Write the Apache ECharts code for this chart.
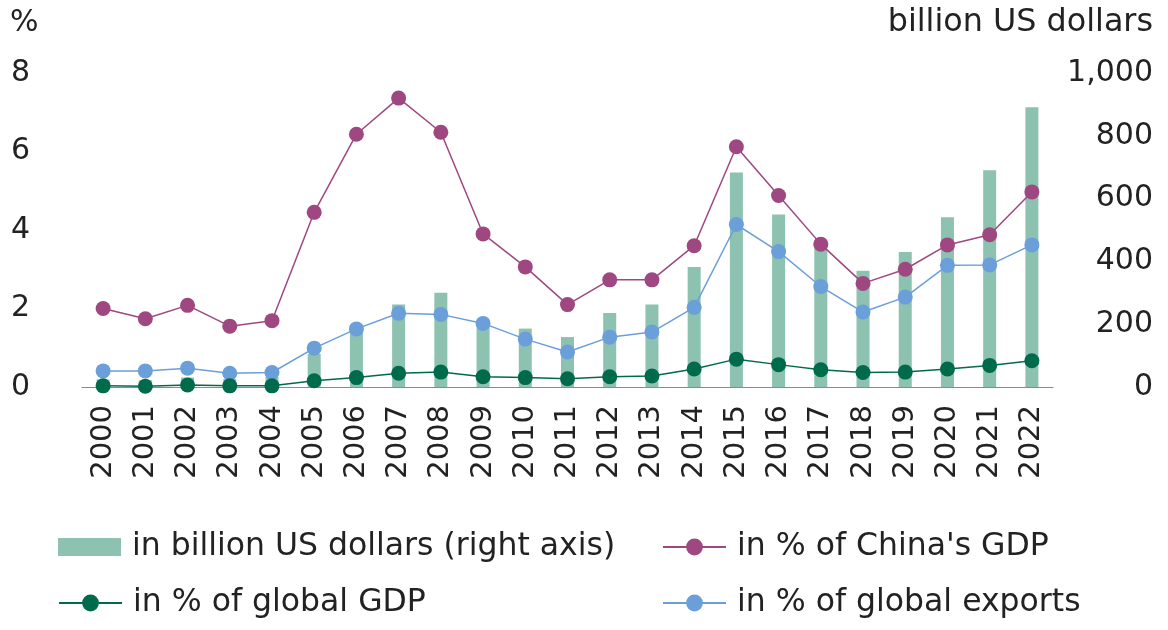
<!DOCTYPE html>
<html>
<head>
<meta charset="utf-8">
<script src="https://cdn.jsdelivr.net/npm/echarts@6/dist/echarts.min.js"></script>
<style>
html,body{margin:0;padding:0;background:#fff;}
#c{width:1168px;height:630px;}
</style>
</head>
<body>
<div id="c"></div>
<script>
const years = ['2000','2001','2002','2003','2004','2005','2006','2007','2008','2009','2010','2011','2012','2013','2014','2015','2016','2017','2018','2019','2020','2021','2022'];
const billionUSD = [24, 22, 30, 25, 32, 105, 180, 263, 300, 205, 186, 159, 236, 263, 382, 683, 549, 462, 370, 430, 541, 690, 891];
const pctChinaGDP = [2.0, 1.74, 2.08, 1.55, 1.69, 4.45, 6.44, 7.36, 6.49, 3.90, 3.06, 2.10, 2.73, 2.73, 3.60, 6.12, 4.88, 3.64, 2.64, 3.00, 3.62, 3.88, 4.97];
const pctGlobalExports = [0.41, 0.41, 0.48, 0.35, 0.37, 0.99, 1.48, 1.88, 1.85, 1.62, 1.22, 0.89, 1.27, 1.40, 2.03, 4.14, 3.45, 2.56, 1.91, 2.29, 3.10, 3.11, 3.62];
const pctGlobalGDP = [0.03, 0.02, 0.05, 0.03, 0.03, 0.16, 0.24, 0.35, 0.38, 0.26, 0.24, 0.21, 0.26, 0.28, 0.46, 0.71, 0.57, 0.44, 0.37, 0.38, 0.46, 0.55, 0.67];
const leftTicks = {min: 0, max: 8, interval: 2};
const rightTicks = {min: 0, max: 1000, interval: 200};

const FONT = 'DejaVu Sans';
const TXT = '#222222';
const C_BAR = '#8CC2AF';
const C_PURPLE = '#9E4780';
const C_BLUE = '#6A9FDA';
const C_GREEN = '#006B4B';

const chart = echarts.init(document.getElementById('c'), null, {renderer: 'canvas'});
const lineSeries = (name, data, color) => ({
  name, type: 'line', data, yAxisIndex: 0,
  symbol: 'circle', symbolSize: 15,
  lineStyle: {color, width: 1.5},
  itemStyle: {color},
  emphasis: {disabled: true},
  animation: false
});
const legendText = {fontSize: 31.5, color: TXT, fontFamily: FONT, lineHeight: 34, padding: [0, 0, 0, 6]};
const mkLegend = (left, top, names, ih) => ({
  orient: 'vertical', left, top, padding: 0, itemGap: 22, itemWidth: 63, itemHeight: ih,
  data: names, textStyle: legendText, selectedMode: false
});
chart.setOption({
  animation: false,
  textStyle: {fontFamily: FONT},
  grid: {left: 82, right: 115, top: 73, bottom: 243, containLabel: false},
  xAxis: {
    type: 'category', data: years,
    axisLine: {show: true, lineStyle: {color: '#8a8a8a', width: 1.2}},
    axisTick: {show: false},
    axisLabel: {rotate: 90, margin: 18, fontSize: 29, color: TXT, fontFamily: FONT, interval: 0}
  },
  yAxis: [
    {
      type: 'value', position: 'left', min: leftTicks.min, max: leftTicks.max, interval: leftTicks.interval,
      splitLine: {show: false}, axisLine: {show: false}, axisTick: {show: false},
      axisLabel: {margin: 52, align: 'right', fontSize: 30, color: TXT, fontFamily: FONT}
    },
    {
      type: 'value', position: 'right', min: rightTicks.min, max: rightTicks.max, interval: rightTicks.interval,
      splitLine: {show: false}, axisLine: {show: false}, axisTick: {show: false},
      axisLabel: {margin: 100, align: 'right', fontSize: 30, color: TXT, fontFamily: FONT,
        formatter: v => v.toLocaleString('en-US')}
    }
  ],
  legend: [
    mkLegend(58, 530, [{name: 'in billion US dollars (right axis)', icon: 'rect'}], 18),
    mkLegend(58, 586, ['in % of global GDP'], 21),
    mkLegend(662, 530, ["in % of China's GDP", 'in % of global exports'], 21)
  ],
  graphic: [
    {type: 'text', left: 10, top: 8, style: {text: '%', fontSize: 30, fill: TXT, fontFamily: FONT}},
    {type: 'text', right: 15, top: 7, style: {text: 'billion US dollars', fontSize: 31.8, fill: TXT, fontFamily: FONT}}
  ],
  series: [
    {
      name: 'in billion US dollars (right axis)', type: 'bar', data: billionUSD, yAxisIndex: 1,
      barWidth: 13, itemStyle: {color: C_BAR}, emphasis: {disabled: true}
    },
    lineSeries("in % of China's GDP", pctChinaGDP, C_PURPLE),
    lineSeries('in % of global exports', pctGlobalExports, C_BLUE),
    lineSeries('in % of global GDP', pctGlobalGDP, C_GREEN)
  ]
});
</script>
</body>
</html>
